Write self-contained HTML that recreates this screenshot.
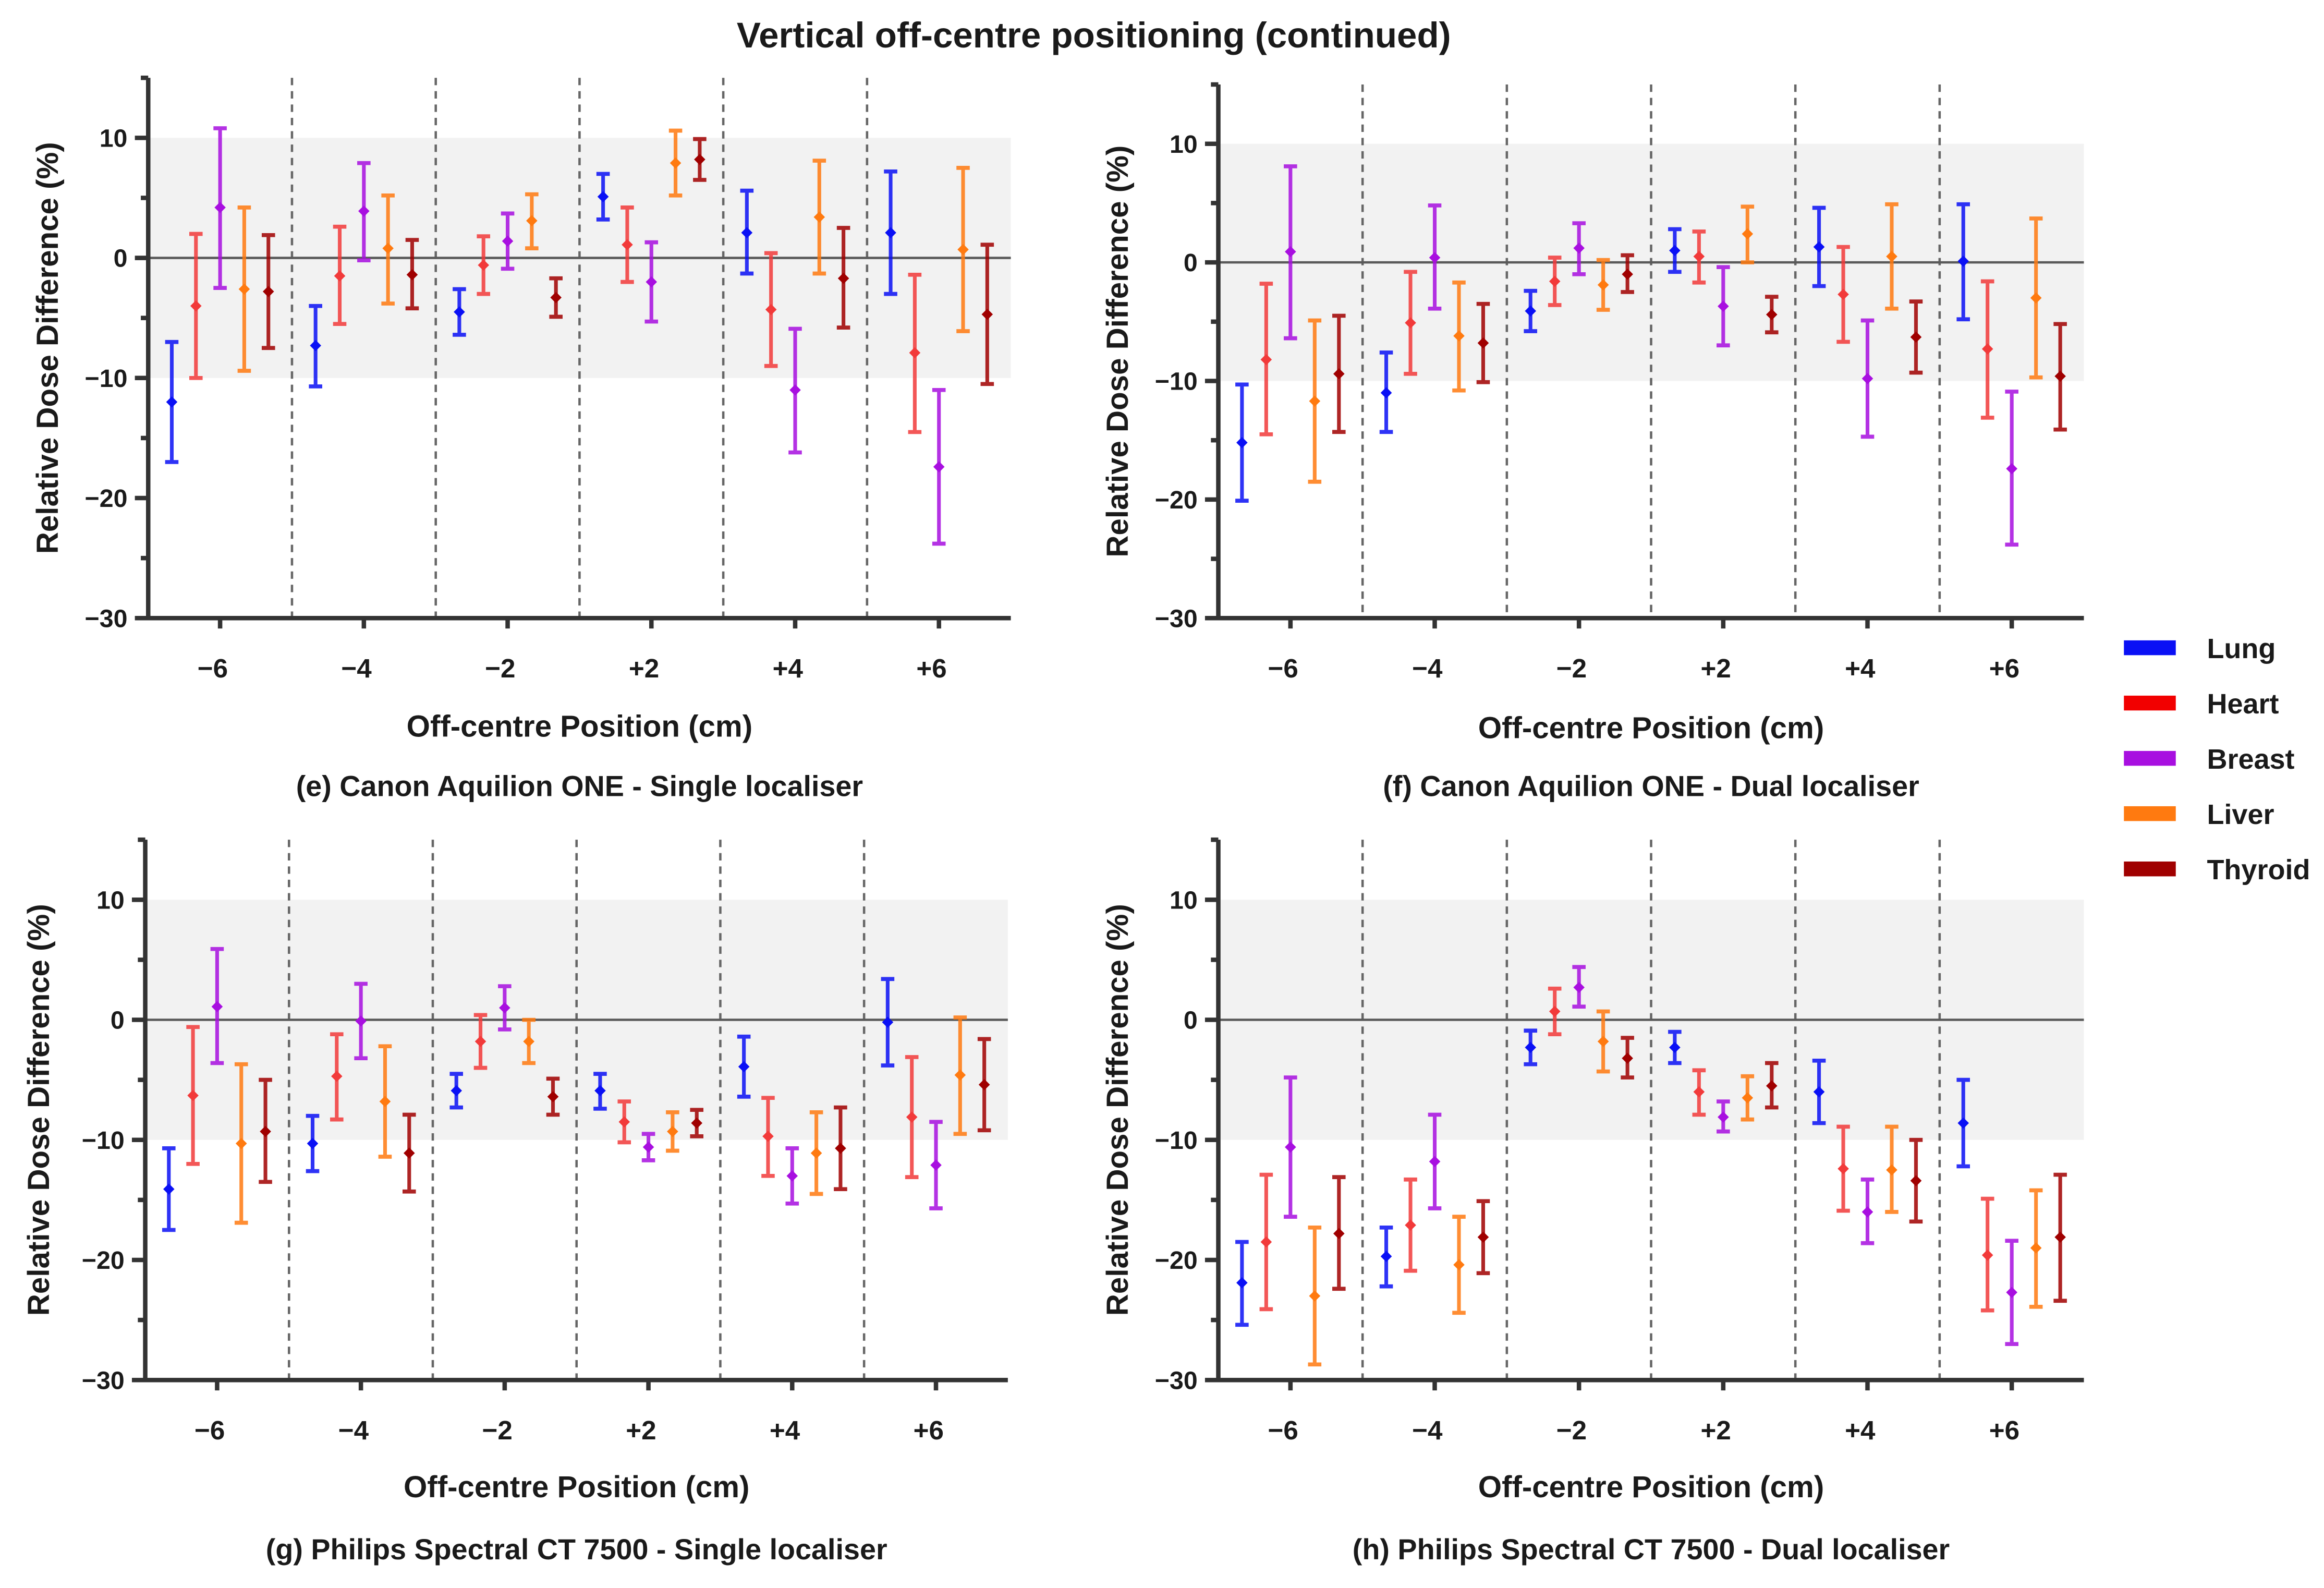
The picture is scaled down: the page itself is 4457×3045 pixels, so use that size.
<!DOCTYPE html>
<html><head><meta charset="utf-8"><style>
html,body{margin:0;padding:0;background:#fff}
svg{display:block}
text{font-family:"Liberation Sans",sans-serif;font-weight:bold;fill:#1a1a1a}
</style></head><body>
<svg id="chart" width="4457" height="3045" viewBox="0 0 1568 1071.3" preserveAspectRatio="none" xmlns="http://www.w3.org/2000/svg">
<text x="738" y="32" text-anchor="middle" font-size="24.3">Vertical off-centre positioning (continued)</text>
<g id="legend"></g>
</svg>
<script>
const organs = ["Lung","Heart","Breast","Liver","Thyroid"];
const colors = ["#0a10f5","#f23a3a","#a80fe0","#ff7a10","#a00000"];
const legendColors = ["#0a10f5","#f20000","#a80fe0","#ff7a10","#a00000"];
const groups = ["\u22126","\u22124","\u22122","+2","+4","+6"];
const yTicks = [-30,-20,-10,0,10];
const yMinor = [-25,-15,-5,5,15];
// [mean, lower, upper] per group per organ
const dataE = [
 [[-12,-17,-7],[-4,-10,2],[4.2,-2.5,10.8],[-2.6,-9.4,4.2],[-2.8,-7.5,1.9]],
 [[-7.3,-10.7,-4],[-1.5,-5.5,2.6],[3.9,-0.2,7.9],[0.8,-3.8,5.2],[-1.4,-4.2,1.5]],
 [[-4.5,-6.4,-2.6],[-0.6,-3,1.8],[1.4,-0.9,3.7],[3.1,0.8,5.3],[-3.3,-4.9,-1.7]],
 [[5.1,3.2,7],[1.1,-2,4.2],[-2,-5.3,1.3],[7.9,5.2,10.6],[8.2,6.5,9.9]],
 [[2.1,-1.3,5.6],[-4.3,-9,0.4],[-11,-16.2,-5.9],[3.4,-1.3,8.1],[-1.7,-5.8,2.5]],
 [[2.1,-3,7.2],[-7.9,-14.5,-1.4],[-17.4,-23.8,-11],[0.7,-6.1,7.5],[-4.7,-10.5,1.1]]];
const dataF = [
 [[-15.2,-20.1,-10.3],[-8.2,-14.5,-1.8],[0.9,-6.4,8.1],[-11.7,-18.5,-4.9],[-9.4,-14.3,-4.5]],
 [[-11,-14.3,-7.6],[-5.1,-9.4,-0.8],[0.4,-3.9,4.8],[-6.2,-10.8,-1.7],[-6.8,-10.1,-3.5]],
 [[-4.1,-5.8,-2.4],[-1.6,-3.6,0.4],[1.2,-1,3.3],[-1.9,-4,0.2],[-1,-2.5,0.6]],
 [[1,-0.8,2.8],[0.5,-1.7,2.6],[-3.7,-7,-0.4],[2.4,0,4.7],[-4.4,-5.9,-2.9]],
 [[1.3,-2,4.6],[-2.7,-6.7,1.3],[-9.8,-14.7,-4.9],[0.5,-3.9,4.9],[-6.3,-9.3,-3.3]],
 [[0.1,-4.8,4.9],[-7.3,-13.1,-1.6],[-17.4,-23.8,-10.9],[-3,-9.7,3.7],[-9.6,-14.1,-5.2]]];
const dataG = [
 [[-14.1,-17.5,-10.7],[-6.3,-12,-0.6],[1.1,-3.6,5.9],[-10.3,-16.9,-3.7],[-9.3,-13.5,-5]],
 [[-10.3,-12.6,-8],[-4.7,-8.3,-1.2],[-0.1,-3.2,3],[-6.8,-11.4,-2.2],[-11.1,-14.3,-7.9]],
 [[-5.9,-7.3,-4.5],[-1.8,-4,0.4],[1,-0.8,2.8],[-1.8,-3.6,0],[-6.4,-7.9,-4.9]],
 [[-5.9,-7.4,-4.5],[-8.5,-10.2,-6.8],[-10.6,-11.7,-9.5],[-9.3,-10.9,-7.7],[-8.6,-9.7,-7.5]],
 [[-3.9,-6.4,-1.4],[-9.7,-13,-6.5],[-13,-15.3,-10.7],[-11.1,-14.5,-7.7],[-10.7,-14.1,-7.3]],
 [[-0.2,-3.8,3.4],[-8.1,-13.1,-3.1],[-12.1,-15.7,-8.5],[-4.6,-9.5,0.2],[-5.4,-9.2,-1.6]]];
const dataH = [
 [[-21.9,-25.4,-18.5],[-18.5,-24.1,-12.9],[-10.6,-16.4,-4.8],[-23,-28.7,-17.3],[-17.8,-22.4,-13.1]],
 [[-19.7,-22.2,-17.3],[-17.1,-20.9,-13.3],[-11.8,-15.7,-7.9],[-20.4,-24.4,-16.4],[-18.1,-21.1,-15.1]],
 [[-2.3,-3.7,-0.9],[0.7,-1.2,2.6],[2.7,1.1,4.4],[-1.8,-4.3,0.7],[-3.2,-4.8,-1.5]],
 [[-2.3,-3.6,-1],[-6,-7.9,-4.2],[-8.1,-9.3,-6.8],[-6.5,-8.3,-4.7],[-5.5,-7.3,-3.6]],
 [[-6,-8.6,-3.4],[-12.4,-15.9,-8.9],[-16,-18.6,-13.3],[-12.5,-16,-8.9],[-13.4,-16.8,-10]],
 [[-8.6,-12.2,-5],[-19.6,-24.2,-14.9],[-22.7,-27,-18.4],[-19,-23.9,-14.2],[-18.1,-23.4,-12.9]]];

const NS="http://www.w3.org/2000/svg";
const svg=document.getElementById('chart');
function mk(tag,attrs,parent){const e=document.createElementNS(NS,tag);for(const k in attrs)e.setAttribute(k,attrs[k]);(parent||svg).appendChild(e);return e;}

const panels=[
 {id:'e',data:dataE,x0:100,x1:682,y10:93,y0:174,ytitleX:39,xtitleY:497,subY:537,sub:"(e) Canon Aquilion ONE - Single localiser"},
 {id:'f',data:dataF,x0:822,x1:1406,y10:97,y0:177,ytitleX:761,xtitleY:498,subY:537,sub:"(f) Canon Aquilion ONE - Dual localiser"},
 {id:'g',data:dataG,x0:98,x1:680,y10:607,y0:688,ytitleX:33,xtitleY:1010,subY:1052,sub:"(g) Philips Spectral CT 7500 - Single localiser"},
 {id:'h',data:dataH,x0:822,x1:1406,y10:607,y0:688,ytitleX:761,xtitleY:1010,subY:1052,sub:"(h) Philips Spectral CT 7500 - Dual localiser"}];

panels.forEach(p=>{
 const g=mk('g',{});
 
 
 const ppu=(p.y0-p.y10)/10;
 const y=v=>p.y0-v*ppu;
 const gw=(p.x1-p.x0)/groups.length;
 const gx=i=>p.x0+gw*(i+0.5);
 const ox=j=>(j-2)*gw*0.168;
 const top=y(15),bot=y(-30);
 const band=mk('rect',{x:p.x0,y:y(10),width:p.x1-p.x0,height:y(-10)-y(10),fill:'#f2f2f2'},g);
 
 
 for(let i=1;i<groups.length;i++){
  const l=mk('line',{x1:p.x0+gw*i,x2:p.x0+gw*i,y1:top,y2:bot,stroke:'#666','stroke-width':1.6,'stroke-dasharray':'5,4'},g);
  
  
 }
 const z=mk('line',{x1:p.x0,x2:p.x1,y1:y(0),y2:y(0),stroke:'#5a5a5a','stroke-width':1.6},g);
 
 
 const ya=mk('line',{x1:p.x0,x2:p.x0,y1:top,y2:bot,stroke:'#333','stroke-width':3},g);
 
 
 const xa=mk('line',{x1:p.x0-1.5,x2:p.x1,y1:bot,y2:bot,stroke:'#333','stroke-width':3},g);
 
 
 yTicks.forEach(v=>{
  mk('line',{x1:p.x0-9,x2:p.x0,y1:y(v),y2:y(v),stroke:'#333','stroke-width':3},g);
  const t=mk('text',{x:p.x0-14,y:y(v)+6,'text-anchor':'end','font-size':17},g);
  t.textContent=v<0?'\u2212'+Math.abs(v):String(v);
  
  
 });
 yMinor.forEach(v=>mk('line',{x1:p.x0-5,x2:p.x0,y1:y(v),y2:y(v),stroke:'#333','stroke-width':3},g));
 groups.forEach((lab,i)=>{
  mk('line',{x1:gx(i),x2:gx(i),y1:bot,y2:bot+7,stroke:'#333','stroke-width':3},g);
  const t=mk('text',{x:gx(i)-5,y:bot+40,'text-anchor':'middle','font-size':18},g);
  t.textContent=lab;
  
  
 });
 const yt=mk('text',{x:0,y:0,'text-anchor':'middle','font-size':20.5,transform:`translate(${p.ytitleX},${(top+bot)/2}) rotate(-90)`},g);
 yt.textContent='Relative Dose Difference (%)';
 
 
 const xt=mk('text',{x:(p.x0+p.x1)/2,y:p.xtitleY,'text-anchor':'middle','font-size':20.5},g);
 xt.textContent='Off-centre Position (cm)';
 
 
 const st=mk('text',{x:(p.x0+p.x1)/2,y:p.subY,'text-anchor':'middle','font-size':19.6},g);
 st.textContent=p.sub;
 
 
 p.data.forEach((grp,i)=>{
  grp.forEach((d,j)=>{
   const cx=gx(i)+ox(j);
   const c=colors[j];
   const eb=mk('g',{stroke:c,'stroke-width':2.5,opacity:0.85},g);
   
   
   mk('line',{x1:cx,x2:cx,y1:y(d[1]),y2:y(d[2])},eb);
   mk('line',{x1:cx-4.5,x2:cx+4.5,y1:y(d[1]),y2:y(d[1]),'stroke-width':2.7},eb);
   mk('line',{x1:cx-4.5,x2:cx+4.5,y1:y(d[2]),y2:y(d[2]),'stroke-width':2.7},eb);
   const m=mk('path',{d:`M${cx},${y(d[0])-3.8}L${cx+3.8},${y(d[0])}L${cx},${y(d[0])+3.8}L${cx-3.8},${y(d[0])}Z`,fill:c},g);
   
   
  });
 });
});
const lg=document.getElementById('legend');
organs.forEach((o,j)=>{
 const yy=437+j*37.3;
 const r=mk('rect',{x:1433,y:yy-5,width:35,height:10,fill:legendColors[j]},lg);
 
 
 const t=mk('text',{x:1489,y:yy+7,'font-size':19},lg);
 t.textContent=o;
 
 
});
</script>
</body></html>
